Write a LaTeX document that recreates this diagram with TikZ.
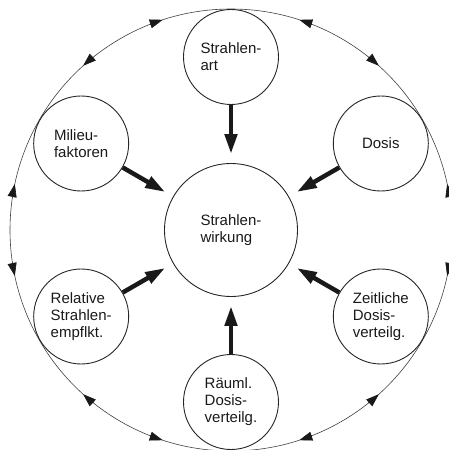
\documentclass[tikz,border=0pt]{standalone}
\usepackage{fontspec}
\setmainfont{Liberation Sans}
\usetikzlibrary{arrows.meta}
\begin{document}
\begin{tikzpicture}[
  bub/.style={circle, draw=black!85, line width=0.9pt, minimum size=95pt, inner sep=0pt, align=left, font=\fontsize{15}{17}\selectfont, text=black!90},
  hub/.style={bub, minimum size=133pt},
  bigarrow/.style={draw=black!90, line width=4.5pt, -{Triangle[length=20pt,width=12pt]}, shorten >=9pt},
  rimtip/.style={draw=black!90, fill=black!90, line width=0.6pt, -{Triangle[length=13pt,width=9pt]}},
]
\useasboundingbox (-231pt,-220pt) rectangle (218pt,230pt);
\draw[black!75, line width=0.6pt] (0,0) circle[radius=221pt];
\node[hub] (c) at (0,0) {Strahlen-\\wirkung};
\node[bub] (art) at (90:173pt) {Strahlen-\\art};
\node[bub] (dos) at (30:173pt) {Dosis};
\node[bub] (zeit) at (-30:173pt) {Zeitliche\\Dosis-\\verteilg.};
\node[bub] (raum) at (-90:172pt) {Räuml.\\Dosis-\\verteilg.};
\node[bub] (rel) at (210:173pt) {Relative\\Strahlen-\\empflkt.};
\node[bub] (mil) at (150:173pt) {Milieu-\\faktoren};
\foreach \n in {art,dos,zeit,raum,rel,mil} {
  \draw[bigarrow] (\n) -- (c);
}
\foreach \m in {0,60,...,300} {
  \draw[rimtip] ({\m+8.5}:221pt) arc[start angle={\m+8.5}, end angle={\m+12}, radius=221pt];
  \draw[rimtip] ({\m-8.5}:221pt) arc[start angle={\m-8.5}, end angle={\m-12}, radius=221pt];
}
\end{tikzpicture}
\end{document}
